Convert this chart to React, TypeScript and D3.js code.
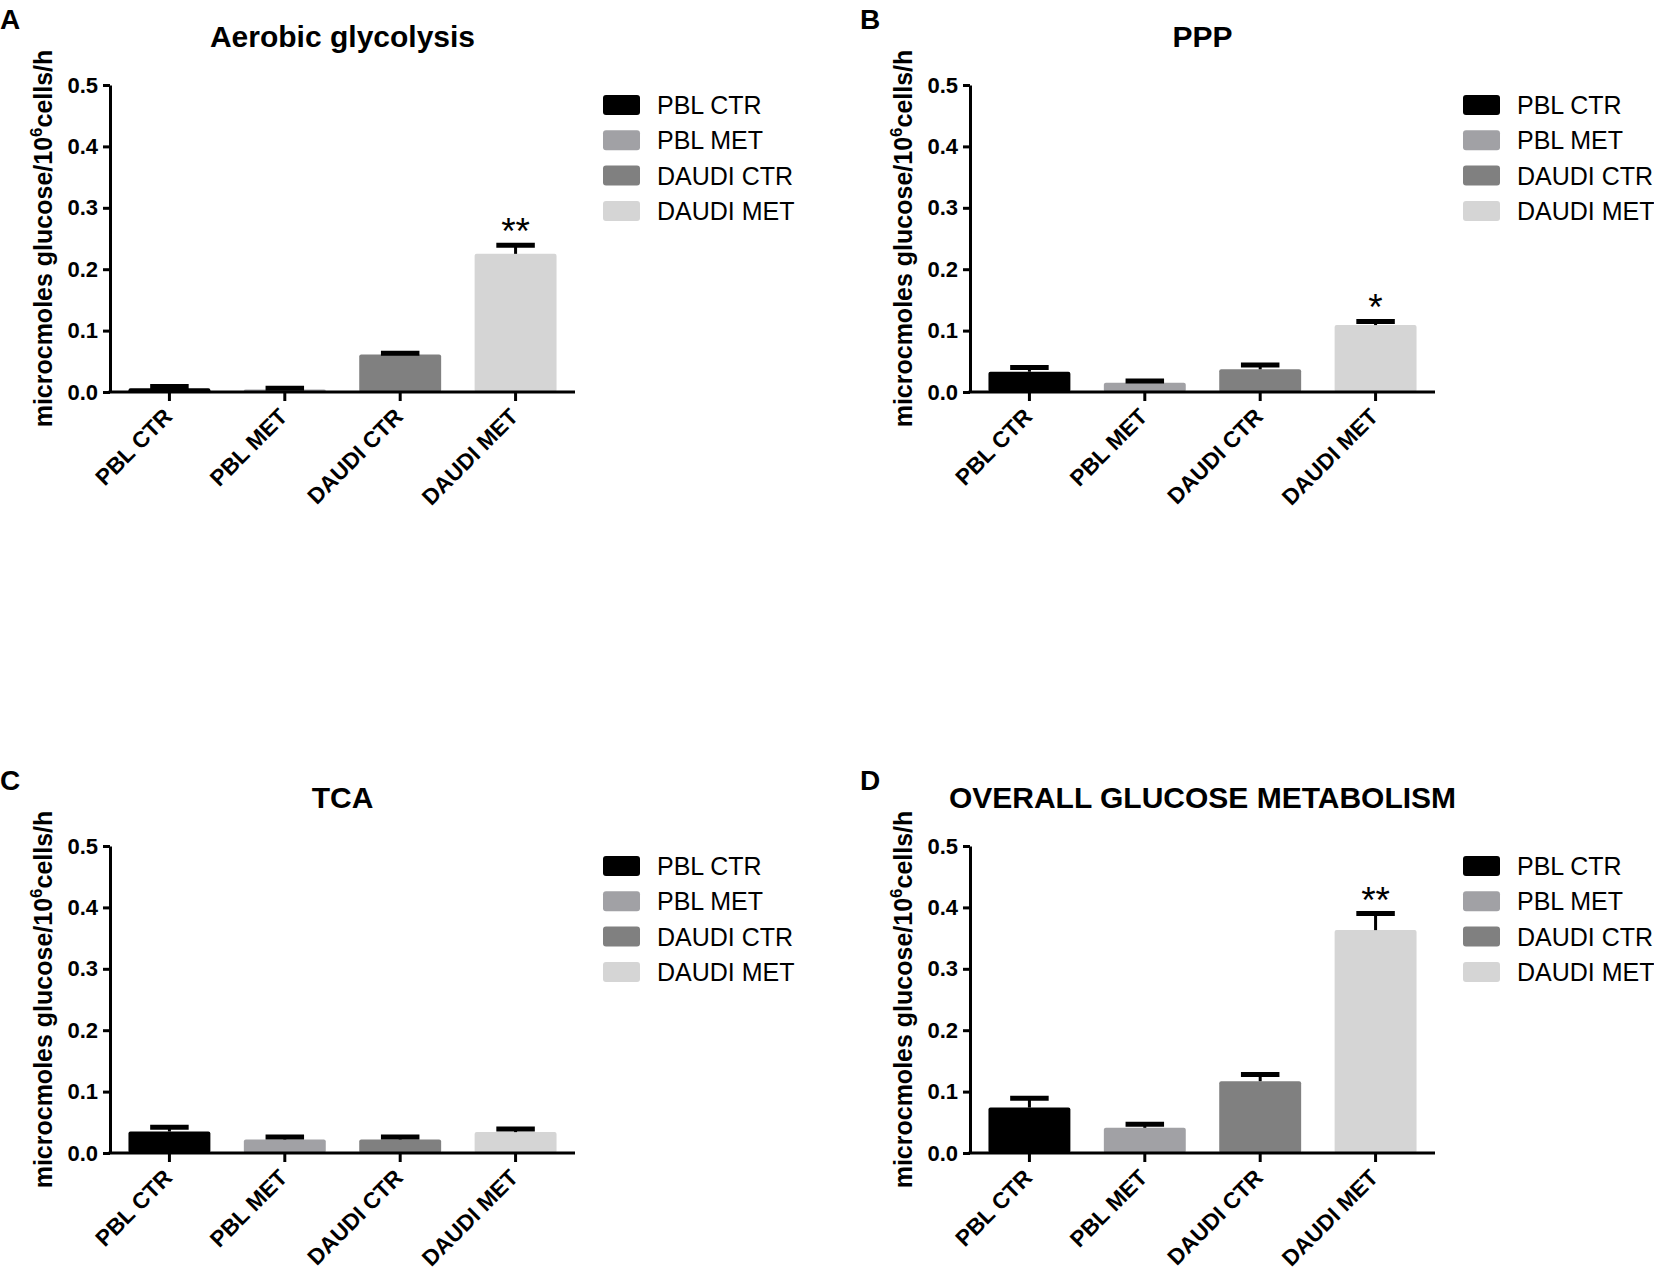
import React, { useRef, useEffect } from 'react';
import * as d3 from 'd3';

// groups (x categories and legend entries)
const categories = ['PBL CTR', 'PBL MET', 'DAUDI CTR', 'DAUDI MET'];

// panel titles / letters
const panelLetters = ['A', 'B', 'C', 'D'];
const panelTitles = ['Aerobic glycolysis', 'PPP', 'TCA', 'OVERALL GLUCOSE METABOLISM'];

// means and SEM per panel (µmol glucose / 10^6 cells / h)
const glycolysisMeans = [0.006, 0.004, 0.061, 0.225];
const glycolysisErrors = [0.003, 0.002, 0.002, 0.014];
const pppMeans = [0.033, 0.015, 0.037, 0.109];
const pppErrors = [0.007, 0.003, 0.007, 0.006];
const tcaMeans = [0.035, 0.022, 0.022, 0.034];
const tcaErrors = [0.007, 0.004, 0.004, 0.005];
const overallMeans = [0.074, 0.041, 0.117, 0.363];
const overallErrors = [0.015, 0.006, 0.011, 0.027];

// significance marks
const glycolysisStars = ['', '', '', '**'];
const pppStars = ['', '', '', '*'];
const tcaStars = ['', '', '', ''];
const overallStars = ['', '', '', '**'];

const yTicks = [0, 0.1, 0.2, 0.3, 0.4, 0.5];

const barColors = ['#000000', '#a1a1a5', '#808080', '#d5d5d5'];
const FONT = "'Liberation Sans', Arial, Helvetica, sans-serif";

const App: React.FC = () => {
  const svgRef = useRef<SVGSVGElement | null>(null);

  useEffect(() => {
    if (!svgRef.current) return;
    const svg = d3.select(svgRef.current);
    svg.selectAll('*').remove();

    const panels = [
      { means: glycolysisMeans, errors: glycolysisErrors, stars: glycolysisStars, ox: 0, oy: 0 },
      { means: pppMeans, errors: pppErrors, stars: pppStars, ox: 860, oy: 0 },
      { means: tcaMeans, errors: tcaErrors, stars: tcaStars, ox: 0, oy: 761 },
      { means: overallMeans, errors: overallErrors, stars: overallStars, ox: 860, oy: 761 },
    ];

    const plot = { left: 110, right: 575, top: 85, bottom: 392 };

    const x = d3
      .scaleBand<string>()
      .domain(categories)
      .range([plot.left, plot.right])
      .paddingInner(0.29)
      .paddingOuter(0.16);

    const y = d3.scaleLinear().domain([0, 0.5]).range([plot.bottom, plot.top]);

    panels.forEach((p, pi) => {
      const g = svg.append('g').attr('transform', `translate(${p.ox},${p.oy})`);

      // panel letter
      g.append('text')
        .attr('x', 0)
        .attr('y', 29)
        .attr('font-family', FONT)
        .attr('font-weight', 'bold')
        .attr('font-size', 28)
        .text(panelLetters[pi]);

      // title
      g.append('text')
        .attr('x', (plot.left + plot.right) / 2)
        .attr('y', 47)
        .attr('text-anchor', 'middle')
        .attr('font-family', FONT)
        .attr('font-weight', 'bold')
        .attr('font-size', 30)
        .text(panelTitles[pi]);

      // bars
      g.selectAll('.bar')
        .data(p.means)
        .enter()
        .append('rect')
        .attr('class', 'bar')
        .attr('x', (_d, i) => x(categories[i]) || 0)
        .attr('y', d => y(d))
        .attr('width', x.bandwidth())
        .attr('height', d => y(0) - y(d))
        .attr('rx', 2)
        .attr('fill', (_d, i) => barColors[i]);

      // error bars (upper only)
      const capW = x.bandwidth() * 0.47;
      p.means.forEach((m, i) => {
        const cx = (x(categories[i]) || 0) + x.bandwidth() / 2;
        const top = y(m + p.errors[i]);
        g.append('line')
          .attr('x1', cx)
          .attr('x2', cx)
          .attr('y1', y(m))
          .attr('y2', top)
          .attr('stroke', '#000')
          .attr('stroke-width', 3);
        g.append('line')
          .attr('x1', cx - capW / 2)
          .attr('x2', cx + capW / 2)
          .attr('y1', top)
          .attr('y2', top)
          .attr('stroke', '#000')
          .attr('stroke-width', 5);
        if (p.stars[i]) {
          g.append('text')
            .attr('x', cx)
            .attr('y', top - 1)
            .attr('text-anchor', 'middle')
            .attr('font-family', FONT)
            .attr('font-size', 37)
            .text(p.stars[i]);
        }
      });

      // y axis
      const yAxis = g
        .append('g')
        .attr('transform', `translate(${plot.left},0)`)
        .call(
          d3
            .axisLeft(y)
            .tickValues(yTicks)
            .tickFormat(d3.format('.1f'))
            .tickSize(7)
            .tickSizeOuter(0)
            .tickPadding(5)
        );
      yAxis.select('.domain').attr('stroke-width', 3);
      yAxis.selectAll('.tick line').attr('stroke-width', 3);
      yAxis
        .selectAll('.tick text')
        .attr('font-family', FONT)
        .attr('font-weight', 'bold')
        .attr('font-size', 22)
        .attr('fill', '#000');

      // x axis
      const xAxis = g
        .append('g')
        .attr('transform', `translate(0,${plot.bottom})`)
        .call(d3.axisBottom(x).tickSize(9).tickSizeOuter(0).tickFormat(() => ''));
      xAxis.select('.domain').attr('stroke-width', 3).attr('d', `M${plot.left - 1.5},0H${plot.right}`);
      xAxis.selectAll('.tick line').attr('stroke-width', 3);

      // rotated category labels
      g.selectAll('.xlabel')
        .data(categories)
        .enter()
        .append('text')
        .attr('class', 'xlabel')
        .attr('text-anchor', 'end')
        .attr('font-family', FONT)
        .attr('font-weight', 'bold')
        .attr('font-size', 22.5)
        .attr('transform', d => {
          const cx = (x(d) || 0) + x.bandwidth() / 2;
          return `translate(${cx + 4},${plot.bottom + 26}) rotate(-45)`;
        })
        .text(d => d);

      // y axis label
      const yl = g
        .append('text')
        .attr('transform', `translate(52,${(plot.top + plot.bottom) / 2}) rotate(-90)`)
        .attr('text-anchor', 'middle')
        .attr('font-family', FONT)
        .attr('font-weight', 'bold')
        .attr('font-size', 25);
      yl.append('tspan').text('microcmoles glucose/10');
      yl.append('tspan').attr('dy', -10).attr('font-size', 17).text('6');
      yl.append('tspan').attr('dy', 10).text('cells/h');

      // legend
      const legend = g.append('g').attr('transform', 'translate(603,95)');
      categories.forEach((c, i) => {
        legend
          .append('rect')
          .attr('x', 0)
          .attr('y', i * 35.3)
          .attr('width', 37)
          .attr('height', 20)
          .attr('rx', 3)
          .attr('fill', barColors[i]);
        legend
          .append('text')
          .attr('x', 54)
          .attr('y', i * 35.3 + 19)
          .attr('font-family', FONT)
          .attr('font-size', 25)
          .text(c);
      });
    });
  }, []);

  return (
    <div style={{ position: 'absolute', left: 0, top: 0, background: '#fff' }}>
      <svg ref={svgRef} width={1654} height={1271} style={{ display: 'block' }}></svg>
    </div>
  );
};

export default App;
